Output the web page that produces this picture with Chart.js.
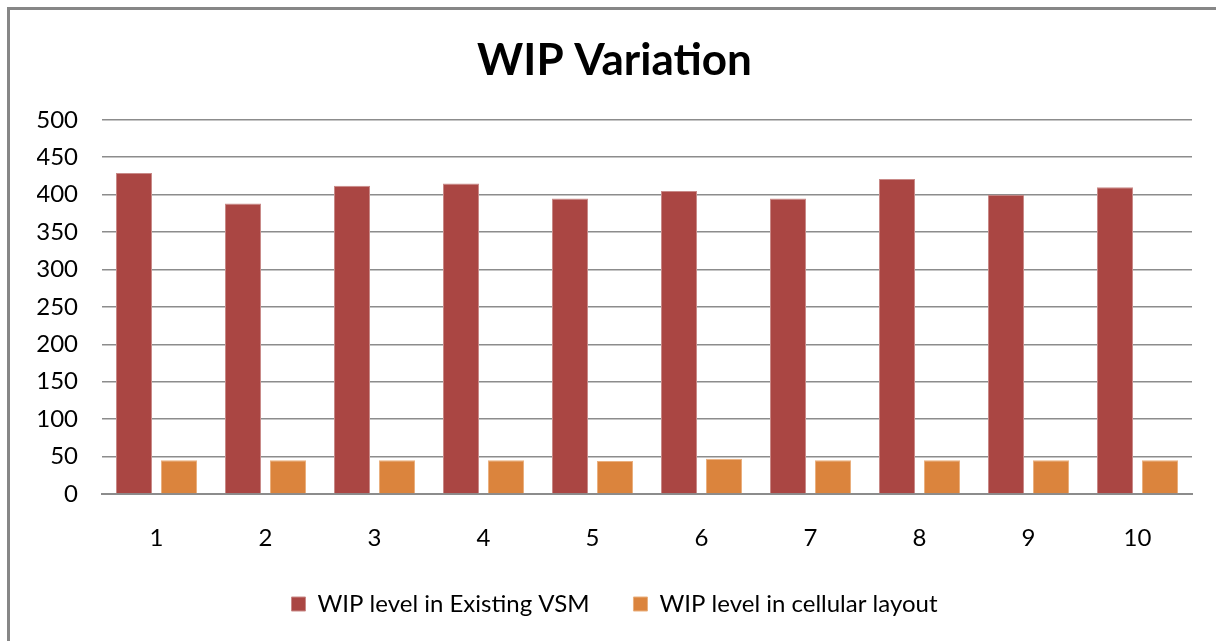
<!DOCTYPE html>
<html>
<head>
<meta charset="utf-8">
<script src="https://cdn.jsdelivr.net/npm/chart.js@4/dist/chart.umd.min.js"></script>
<style>
  html, body { margin: 0; padding: 0; background: #fff; overflow: hidden; }
  #frame { position: absolute; left: 7px; top: 7px; width: 1400px; height: 800px;
           border-left: 3px solid #878787; border-top: 3px solid #878787; }
  #wrap { position: absolute; left: 0; top: 0; width: 1216px; height: 641px; }
</style>
</head>
<body>
<div id="frame"></div>
<div id="wrap"><canvas id="c" width="1216" height="641"></canvas></div>
<script>
const categories = ['1', '2', '3', '4', '5', '6', '7', '8', '9', '10'];
const existingVSM = [429, 388, 412, 415, 395, 405, 395, 421, 400, 410];
const cellularLayout = [45, 45, 45, 45, 44, 47, 45, 45, 45, 45];
const seriesNames = ['WIP level in Existing VSM', 'WIP level in cellular layout'];
const chartTitle = 'WIP Variation';

const FONT = 'Lato, "Open Sans", "Liberation Sans", sans-serif';

new Chart(document.getElementById('c'), {
  type: 'bar',
  data: {
    labels: categories,
    datasets: [
      { label: seriesNames[0], data: existingVSM, backgroundColor: '#AA4643',
        borderColor: '#c98a88', borderWidth: 1,
        categoryPercentage: 0.826, barPercentage: 0.8 },
      { label: seriesNames[1], data: cellularLayout, backgroundColor: '#DB843D',
        borderColor: '#eab07f', borderWidth: 1,
        categoryPercentage: 0.826, barPercentage: 0.8 }
    ]
  },
  options: {
    responsive: false,
    animation: false,
    layout: { padding: { left: 37, right: 24, top: 0, bottom: 15 } },
    plugins: {
      title: {
        display: true, text: chartTitle, color: '#000',
        font: { family: FONT, size: 44, weight: 'bold', lineHeight: 1.2 },
        padding: { top: 34, bottom: 33 }
      },
      legend: {
        position: 'bottom',
        labels: {
          boxWidth: 14, boxHeight: 14, padding: 44, color: '#000',
          font: { family: FONT, size: 24 }
        }
      },
      tooltip: { enabled: false }
    },
    scales: {
      x: {
        grid: { display: false, drawTicks: false },
        border: { display: true, color: '#8c8c8c', width: 2 },
        ticks: { color: '#000', padding: 35, font: { family: FONT, size: 24, lineHeight: 0.75 } },
        afterFit: (s) => { s.height = 54; }
      },
      y: {
        min: 0, max: 500,
        grid: { color: '#8c8c8c', lineWidth: 1.5, drawTicks: false },
        border: { display: false },
        ticks: { stepSize: 50, color: '#000', padding: 24, font: { family: FONT, size: 24 } },
        afterFit: (s) => { s.width = 65; }
      }
    }
  }
});
</script>
</body>
</html>
